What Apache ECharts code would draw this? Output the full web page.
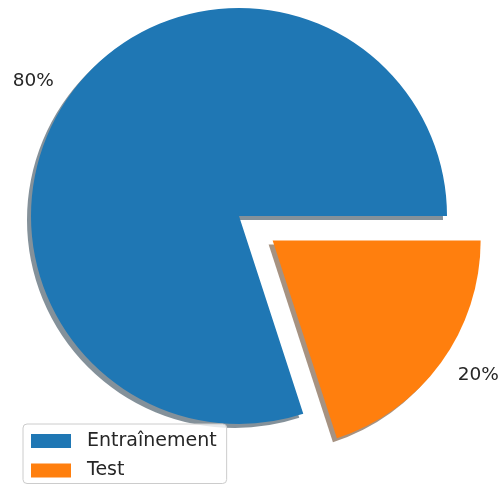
<!DOCTYPE html>
<html>
<head>
<meta charset="utf-8">
<script src="https://cdn.jsdelivr.net/npm/echarts@6/dist/echarts.min.js"></script>
<style>
    html, body { margin: 0; padding: 0; background: #fff; }
    #main { width: 502px; height: 485px; }
</style>
</head>
<body>
<div id="main"></div>
<script>
var categories = ['Entraînement', 'Test'];
var values = [80, 20];
var pieLabels = ['80%', '20%'];
var exploded = [false, true];

var colors = ['#1f77b4', '#ff7f0e'];
var shadowColors = ['rgba(9,36,54,0.5)', 'rgba(77,38,4,0.5)'];

var chart = echarts.init(document.getElementById('main'));

var pieData = [];
for (var i = 0; i < categories.length; i++) {
    pieData.push({
        name: categories[i],
        value: values[i],
        selected: exploded[i],
        label: { formatter: pieLabels[i] },
        itemStyle: {
            color: colors[i],
            shadowColor: shadowColors[i]
        }
    });
}

var option = {
    backgroundColor: '#fff',
    animation: false,
    legend: {
        orient: 'vertical',
        left: 23,
        top: 424,
        padding: [7, 10, 3, 8],
        itemWidth: 40,
        itemHeight: 14,
        itemGap: 9.5,
        icon: 'rect',
        backgroundColor: 'rgba(255,255,255,0.8)',
        borderColor: '#cccccc',
        borderWidth: 1,
        borderRadius: 4,
        selectedMode: false,
        data: categories,
        textStyle: {
            fontFamily: 'DejaVu Sans',
            fontSize: 19,
            lineHeight: 20,
            color: '#262626',
            padding: [0, 0, 0, 11]
        }
    },
    series: [{
        type: 'pie',
        center: [239, 216],
        radius: 208,
        startAngle: 0,
        clockwise: false,
        selectedMode: 'multiple',
        selectedOffset: 41.6,
        avoidLabelOverlap: false,
        emphasis: { disabled: true },
        itemStyle: {
            borderWidth: 0,
            shadowBlur: 0,
            shadowOffsetX: -4,
            shadowOffsetY: 4
        },
        label: {
            show: true,
            position: 'outside',
            fontFamily: 'DejaVu Sans',
            fontSize: 18.5,
            color: '#262626',
            distanceToLabelLine: 0
        },
        labelLine: {
            show: false,
            length: 20.8,
            length2: 0
        },
        data: pieData
    }]
};

chart.setOption(option);
</script>
</body>
</html>
